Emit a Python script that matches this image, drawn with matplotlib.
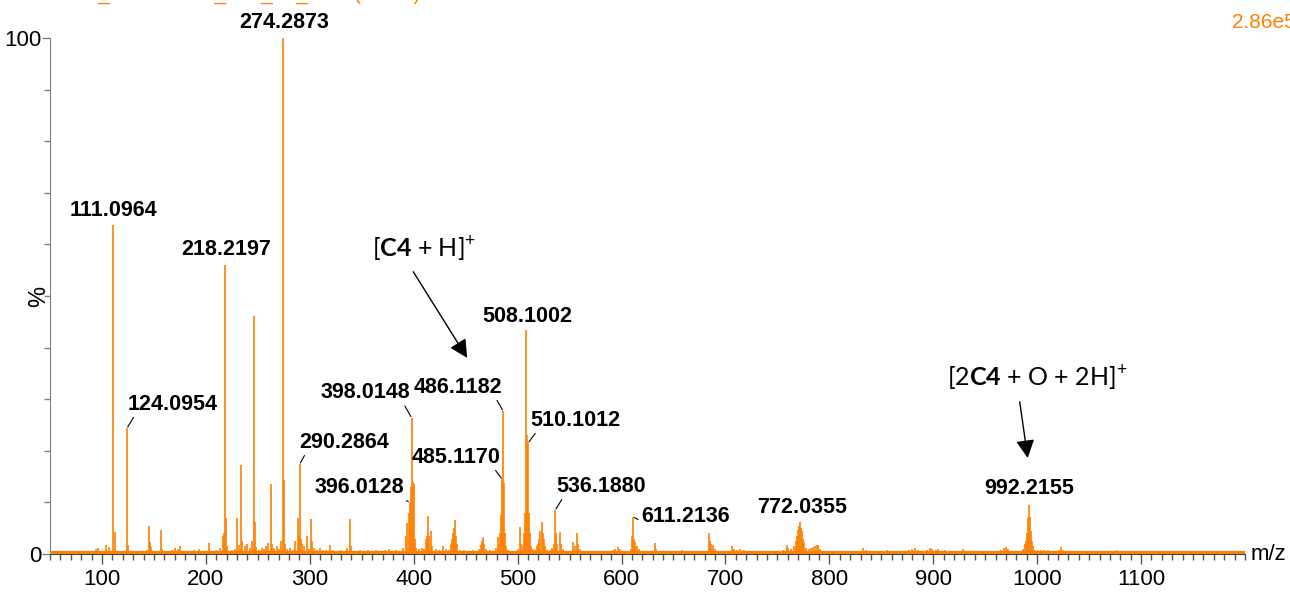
import numpy as np
import matplotlib.pyplot as plt
from matplotlib.ticker import FixedLocator, MultipleLocator

# centroid list: m/z and relative intensity (%)
mz = [
    55, 60, 69.7, 77, 84, 91, 94, 96.3, 99, 104.3, 107, 109,
    111.1, 112.1, 113, 117, 120, 124.1, 125.1, 130, 133, 137, 140, 143,
    145.1, 146.1, 147.1, 151, 157.1, 158, 163, 167, 170, 173, 175, 181, 185, 189, 193, 197,
    202.7, 206, 210, 214, 216.2, 217.2, 218.2, 219.2, 220.2, 225, 228, 230.3, 232,
    234.2, 235.2, 238, 240, 242, 244, 246.2, 247.2, 248.2, 251, 254, 256, 258, 260.2,
    262.2, 263.2, 266, 268, 270, 272.2, 274.3, 275.3, 276.3, 278, 281, 284, 286.2,
    288.2, 289.2, 290.3, 291.3, 292.5, 294, 297.3, 299, 301.4, 302.4, 304, 307, 310,
    313, 316, 319, 322, 326, 330, 333, 336, 338.9, 339.9, 344, 348, 352, 356, 360,
    364, 368, 372, 376, 379, 383, 386, 390, 392.5, 394, 395, 396, 397, 398, 399, 400,
    401, 402, 405, 408, 410, 412, 413, 414, 415, 416.8, 418, 421, 424, 428, 431, 434,
    436, 437, 438, 439, 440, 441, 442, 445, 448, 452, 455, 457, 460, 463, 465, 466,
    467, 468, 470, 473, 476, 479, 481.3, 482, 483, 484, 485.1, 486.1, 487.1, 488, 489,
    491, 494, 497, 500, 502.4, 503, 505, 506, 507, 508.1, 509.1, 510.1, 511, 512, 513,
    515, 517, 519, 520, 521, 522, 523.2, 524, 525, 526, 528, 531, 533, 535, 536.2,
    537.2, 538, 540.9, 542, 544, 547, 550, 553.5, 555, 556.9, 558, 560, 563, 567, 571,
    575, 579, 584, 588, 592, 594, 596.7, 599, 603, 606, 609, 610.2, 611.2, 612.2, 613,
    615, 617, 620, 624, 628, 632.2, 633, 637, 641, 645, 650, 654, 658, 661, 666, 670,
    675, 680, 684.4, 685.4, 686.4, 688, 690, 693, 697, 702, 706, 708, 711, 714, 718,
    722, 727, 731, 736, 741, 746, 751, 755, 758.9, 760, 763, 766, 768, 769, 770, 771,
    772, 773, 774, 775, 776, 778, 780, 782, 784, 786, 788, 789, 791, 794, 798, 803,
    808, 813, 818, 824, 829, 832.5, 835, 838, 843, 848, 852, 855, 860, 866, 870, 877,
    880, 882, 885, 890, 894, 897, 899, 903, 905, 908, 911, 915, 920, 925, 929, 931,
    936, 942, 948, 953, 958, 962, 965, 968, 970, 972, 975, 979, 983, 986, 988, 989,
    990, 991, 992.2, 993, 994, 995, 996, 998, 1001, 1004, 1007, 1010, 1014, 1018,
    1021, 1023.3, 1025, 1029, 1035, 1040, 1046, 1052, 1058, 1063, 1070, 1077, 1079,
    1085, 1092, 1100, 1107, 1115, 1122, 1130, 1137, 1144, 1150, 1152, 1160, 1168,
    1176, 1185, 1193,
]
intensity = [
    0.4, 0.3, 0.6, 0.3, 0.4, 0.6, 0.9, 1.2, 0.5, 1.8, 1.3, 0.5,
    63.8, 4.3, 0.6, 0.4, 0.5, 24.4, 1.7, 0.5, 0.6, 0.6, 0.5, 0.7,
    5.4, 2.3, 1.4, 0.6, 4.6, 1.0, 0.5, 0.8, 1.2, 1.0, 1.5, 0.6, 0.5, 0.7, 1.0, 0.6,
    2.2, 0.5, 0.8, 1.2, 3.5, 4.0, 56.0, 7.0, 1.5, 0.7, 1.0, 7.0, 1.8,
    17.2, 2.5, 1.5, 2.0, 1.2, 2.5, 46.1, 6.2, 1.3, 0.8, 1.2, 1.0, 1.5, 2.2,
    13.6, 2.0, 1.2, 1.6, 1.0, 2.5, 100.0, 14.3, 2.0, 1.0, 1.2, 0.8, 2.5,
    7.0, 3.5, 17.4, 3.0, 2.0, 1.5, 3.4, 1.0, 6.8, 2.5, 1.2, 0.8, 1.2,
    0.8, 0.7, 1.8, 0.7, 0.6, 0.8, 0.6, 1.2, 6.8, 1.5, 0.6, 0.8, 0.6, 0.8, 0.5,
    0.7, 0.5, 0.8, 1.0, 0.6, 0.8, 0.5, 1.2, 3.5, 6.0, 8.0, 10.0, 13.0, 26.4, 14.0, 13.5,
    3.0, 1.2, 1.0, 1.2, 1.0, 2.9, 3.5, 7.4, 3.5, 4.5, 1.5, 1.0, 0.8, 1.5, 1.0, 0.8,
    2.0, 3.0, 4.0, 5.0, 6.6, 3.5, 2.0, 0.7, 0.8, 0.6, 0.6, 0.8, 0.6, 1.0, 1.8, 2.5,
    3.3, 2.0, 1.0, 0.8, 0.6, 1.2, 3.3, 2.0, 4.0, 7.5, 14.5, 27.7, 13.8, 4.0, 1.5,
    0.8, 0.6, 0.6, 1.0, 5.2, 2.0, 1.5, 4.0, 8.0, 43.4, 23.0, 21.5, 8.0, 4.0, 1.5,
    1.0, 0.8, 1.5, 2.0, 3.0, 4.5, 6.2, 4.0, 3.0, 1.5, 0.8, 0.8, 1.2, 2.0, 8.5,
    4.0, 2.0, 4.3, 2.0, 1.0, 0.6, 0.6, 2.3, 1.5, 4.1, 2.0, 0.9, 0.6, 0.6, 0.6,
    0.5, 0.5, 0.6, 0.6, 0.8, 1.0, 1.4, 1.0, 0.6, 0.6, 1.0, 3.5, 7.2, 3.0, 2.3,
    1.6, 1.0, 0.6, 0.5, 0.6, 2.1, 1.0, 0.6, 0.5, 0.5, 0.5, 0.6, 0.8, 0.6, 0.6, 0.5,
    0.5, 0.6, 4.1, 2.5, 2.0, 1.8, 1.0, 0.6, 0.5, 0.6, 1.5, 1.0, 0.8, 1.0, 0.8,
    0.6, 0.6, 0.5, 0.6, 0.6, 0.5, 0.6, 0.8, 1.7, 1.2, 1.0, 1.5, 2.5, 3.5, 4.6, 5.5,
    6.2, 5.0, 4.5, 3.0, 2.3, 1.2, 1.0, 1.2, 1.3, 1.5, 1.7, 1.7, 1.0, 0.6, 0.5, 0.5,
    0.4, 0.5, 0.4, 0.5, 0.6, 1.2, 0.8, 0.6, 0.5, 0.5, 0.5, 0.8, 0.5, 0.6, 0.6, 0.8,
    1.0, 1.1, 0.7, 0.5, 0.8, 1.1, 0.9, 0.8, 0.9, 0.6, 0.8, 0.5, 0.4, 0.5, 0.9, 0.6,
    0.4, 0.4, 0.4, 0.4, 0.5, 0.6, 0.8, 1.2, 1.4, 1.0, 0.6, 0.5, 0.6, 1.0, 2.0, 2.5,
    4.0, 7.0, 9.5, 7.2, 4.5, 2.5, 1.5, 0.8, 0.7, 0.8, 0.8, 0.7, 0.6, 0.6,
    0.8, 1.3, 0.8, 0.4, 0.4, 0.4, 0.3, 0.4, 0.5, 0.4, 0.4, 0.7, 0.5,
    0.3, 0.3, 0.3, 0.3, 0.3, 0.3, 0.4, 0.4, 0.3, 0.6, 0.4, 0.3, 0.3,
    0.3, 0.3, 0.3,
]

# labelled peaks and where their labels sit (pixel offset from the peak top)
peak_labels = ['111.0964', '124.0954', '218.2197', '274.2873', '290.2864',
               '396.0128', '398.0148', '485.1170', '486.1182', '508.1002',
               '510.1012', '536.1880', '611.2136', '772.0355', '992.2155']
label_dx = [0, 46, 1, 1, 44, -50, -46, -46, -45, 1, 47, 46, 52, 2, 0]
label_dy = [14, 24, 16, 16, 22, 15, 25, 22, 24, 14, 23, 24, 0, 15, 16]
leader_rel = [None, (0.08, 0), None, None, (0.08, 0), (0.93, 0.1), (0.92, 0),
              (0.92, 0), (0.92, 0), None, (0.08, 0), (0.08, 0), (0, 0.3), None, None]

orange = '#ff8000'
plt.rcParams['font.family'] = ['Liberation Sans', 'DejaVu Sans']
plt.rcParams['mathtext.fontset'] = 'custom'
plt.rcParams['mathtext.rm'] = 'Lato'
plt.rcParams['mathtext.bf'] = 'Lato:bold'

fig = plt.figure(figsize=(12.9, 5.94), dpi=100)
ax = fig.add_axes([50 / 1290, 40 / 594, 1195 / 1290, 516 / 594])

ax.vlines(mz, 0, intensity, color=orange, lw=1.2, clip_on=False, zorder=3)
ax.axhline(0.3, color=orange, lw=2.2, zorder=3)

ax.set_xlim(50, 1200)
ax.set_ylim(0, 100)
ax.xaxis.set_major_locator(FixedLocator(np.arange(100, 1101, 100)))
ax.xaxis.set_minor_locator(MultipleLocator(10))
ax.set_yticks([0, 100])
ax.yaxis.set_minor_locator(MultipleLocator(10))
ax.tick_params(axis='x', which='major', length=7, width=1, color='#555555', labelsize=16, pad=4)
ax.tick_params(axis='x', which='minor', length=4, width=1, color='#555555')
ax.tick_params(axis='y', which='major', length=6, width=1, color='#808080', labelsize=16, pad=0)
ax.tick_params(axis='y', which='minor', length=4, width=1, color='#808080')
for side in ['top', 'right']:
    ax.spines[side].set_visible(False)
ax.spines['left'].set_color('#808080')
ax.spines['bottom'].set_color('#444444')

ax.set_ylabel('%', fontsize=17)
ax.yaxis.set_label_coords(0.0, 0.5)
ax.text(1.005, 0.0, 'm/z', transform=ax.transAxes, fontsize=16, ha='left', va='center')

for text, dx, dy, rel in zip(peak_labels, label_dx, label_dy, leader_rel):
    i = int(np.argmin(np.abs(np.array(mz) - float(text))))
    arrow = None
    if rel is not None:
        arrow = dict(arrowstyle='-', color='black', lw=0.8, relpos=rel, shrinkA=0, shrinkB=1)
    ax.annotate(text, xy=(mz[i], intensity[i]), xytext=(dx, dy), textcoords='offset pixels',
                ha='center', va='center', fontsize=15.5, fontweight='bold',
                arrowprops=arrow, annotation_clip=False)

head = dict(arrowstyle='-|>,head_length=0.55,head_width=0.28', color='black', lw=1,
            mutation_scale=20, shrinkA=0, shrinkB=0)
ax.text(410, 59.1, r'[$\mathbf{C4}$ + H]$^{+}$', ha='center', va='center', fontsize=18, family='Lato')
ax.annotate('', xy=(451.5, 38.0), xytext=(399.6, 54.7), arrowprops=head)
ax.text(1000.5, 34.1, r'[2$\mathbf{C4}$ + O + 2H]$^{+}$', ha='center', va='center', fontsize=18, family='Lato')
ax.annotate('', xy=(990.9, 18.6), xytext=(983.2, 29.5), arrowprops=head)

# sample header (cut off by the top edge) and scale factor, as in the instrument printout
fig.text(5 / 1290, 1 + 0.5 / 594, '20180312_180312001_002_01_1 37 (0.693)', color=orange,
         fontsize=15, va='baseline', ha='left')
fig.text(1232 / 1290, 1 - 22 / 594, '2.86e5', color=orange, fontsize=15, va='center', ha='left')

fig.savefig('out.png', dpi=100)
